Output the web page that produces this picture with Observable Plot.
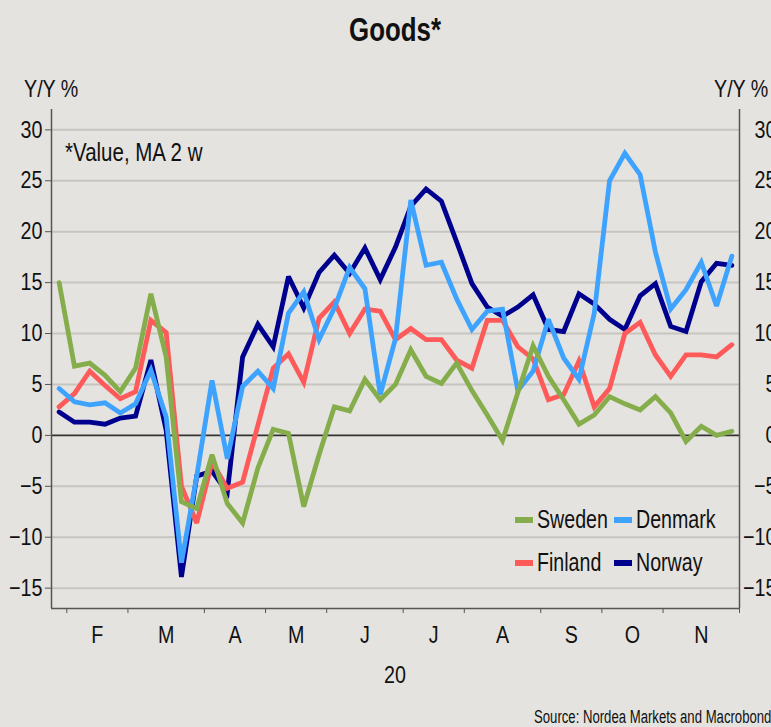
<!DOCTYPE html>
<html><head><meta charset="utf-8">
<script src="https://cdn.jsdelivr.net/npm/d3@7"></script>
<script src="https://cdn.jsdelivr.net/npm/@observablehq/plot@0.6"></script>
<style>
html,body{margin:0;padding:0;background:#e4e3df;}
#wrap{position:relative;width:771px;height:727px;overflow:hidden;background:#e4e3df;font-family:"Liberation Sans",Arial,sans-serif;color:#111;}
.lbl{position:absolute;white-space:nowrap;line-height:1;transform:scaleX(0.82);transform-origin:left center;}
.sw{position:absolute;width:18px;height:6px;}
</style></head><body><div id="wrap"></div>
<script>
const countries = ["Sweden","Denmark","Finland","Norway"];
const colors = ["#86ad4b","#3ea3ff","#ff5a5a","#00008f"];
const sweden  = [15.0,6.8,7.1,5.9,4.3,6.6,13.9,7.7,-6.5,-7.2,-1.9,-6.7,-8.6,-3.2,0.6,0.2,-7.0,-1.9,2.8,2.4,5.5,3.5,5.0,8.4,5.8,5.1,7.1,4.4,2.0,-0.5,4.2,8.8,5.8,3.5,1.1,2.0,3.8,3.1,2.5,3.8,2.2,-0.6,0.9,0.0,0.4];
const denmark = [4.6,3.3,3.0,3.2,2.2,3.1,6.4,1.8,-12.5,-4.0,5.4,-2.3,4.8,6.3,4.6,12.0,14.1,9.4,12.5,16.5,14.4,4.0,9.5,23.1,16.7,17.0,13.4,10.4,12.2,12.4,4.4,6.3,11.4,7.6,5.5,12.0,25.0,27.7,25.6,18.0,12.4,14.3,17.0,12.7,17.6];
const finland = [2.8,4.1,6.3,4.9,3.6,4.3,11.3,10.1,-5.0,-8.6,-2.6,-5.2,-4.6,1.0,6.6,8.0,5.2,11.5,13.1,10.0,12.4,12.2,9.4,10.5,9.4,9.4,7.4,6.6,11.3,11.3,8.7,7.5,3.5,4.0,7.3,2.8,4.6,10.0,11.1,7.9,5.8,7.9,7.9,7.7,8.9];
const norway  = [2.3,1.3,1.3,1.1,1.7,1.9,7.4,0.5,-13.9,-4.0,-3.5,-5.6,7.7,10.9,8.7,15.6,12.5,16.0,17.7,15.9,18.4,15.3,18.5,22.5,24.2,23.0,19.0,14.9,12.6,11.7,12.6,13.8,10.4,10.2,13.9,12.9,11.4,10.4,13.7,14.9,10.7,10.2,15.1,16.9,16.7];
const yTicks = [-15,-10,-5,0,5,10,15,20,25,30];
const monthLabels = ["F","M","A","M","J","J","A","S","O","N"];
const yearLabel = "20";
const title = "Goods*";
const note = "*Value, MA 2 w";
const unit = "Y/Y %";
const source = "Source: Nordea Markets and Macrobond";

// weekly observations (Mondays), 2020
const weeks = d3.utcMonday.range(new Date(Date.UTC(2020,0,27)), new Date(Date.UTC(2020,11,1)));
const half = 3.5*864e5;
const xDomain = [new Date(+weeks[0]-half), new Date(+weeks[weeks.length-1]+half)];
const series = [sweden, denmark, finland, norway];
const data = [];
// draw order: Norway, Finland, Denmark, Sweden
[3,2,1,0].forEach(k => series[k].forEach((v,i) => data.push({country: countries[k], date: weeks[i], value: v})));

// month grouping for x-axis
const groups = d3.groups(weeks, d => d.getUTCMonth()).filter(g => g[0] >= 1);
const boundaries = groups.map(g => new Date(+g[1][0]-half));
boundaries.push(xDomain[1]);
const centers = groups.map(g => new Date((+g[1][0] + +g[1][g[1].length-1])/2));
const labelMap = new Map(centers.map((d,i) => [+d, monthLabels[i]]));

const font = '"Liberation Sans",Arial,sans-serif';
const plot = Plot.plot({
  width: 771, height: 727,
  marginTop: 109, marginBottom: 119, marginLeft: 51, marginRight: 32,
  style: {background: "transparent", fontFamily: font, fontSize: "24px", color: "#111", overflow: "visible"},
  x: {type: "utc", domain: xDomain},
  y: {domain: [-17, 32]},
  color: {domain: countries, range: colors},
  marks: [
    Plot.gridY(yTicks.filter(d => d !== 0), {stroke: "#c7c5c0", strokeOpacity: 1, strokeWidth: 2}),
    Plot.ruleY([0], {stroke: "#333", strokeWidth: 1.6}),
    Plot.axisY(yTicks, {anchor: "left", tickSize: 6, tickPadding: 3, label: null, stroke: "#555", fill: "#111"}),
    Plot.axisY(yTicks, {anchor: "right", tickSize: 6, tickPadding: 0, textAnchor: "end", dx: 31, label: null, stroke: "#555", fill: "#111"}),
    Plot.axisX(boundaries, {anchor: "bottom", tickSize: 5, tickFormat: () => "", label: null, stroke: "#555"}),
    Plot.axisX(centers, {anchor: "bottom", tickSize: 0, tickPadding: 17, tickFormat: d => labelMap.get(+d), label: null, fill: "#111"}),
    Plot.ruleX(xDomain, {stroke: "#555", strokeWidth: 1.5}),
    Plot.ruleY([-17], {stroke: "#555", strokeWidth: 1.5}),
    Plot.line(data, {x: "date", y: "value", z: "country", stroke: "country", strokeWidth: 4.8, strokeLinejoin: "miter", strokeMiterlimit: 3})
  ]
});
plot.style.position = "absolute";
plot.style.left = "0px";
plot.style.top = "0px";
const wrap = document.getElementById("wrap");
wrap.appendChild(plot);

// condense SVG tick labels (narrow face not installed)
plot.querySelectorAll("text").forEach(t => {
  const L = t.getComputedTextLength();
  if (L > 0) {
    t.setAttribute("textLength", (L * 0.82).toFixed(2));
    t.setAttribute("lengthAdjust", "spacingAndGlyphs");
  }
});

function addLabel(text, css) {
  const d = document.createElement("div");
  d.className = "lbl";
  d.textContent = text;
  Object.assign(d.style, css);
  wrap.appendChild(d);
  return d;
}
addLabel(title, {left: "0px", width: "790px", textAlign: "center", top: "12px", fontSize: "34px", fontWeight: "bold", transform: "scaleX(0.76)", transformOrigin: "395px 50%"});
addLabel(unit, {left: "24px", top: "77px", fontSize: "24px"});
addLabel(unit, {left: "714px", top: "77px", fontSize: "24px"});
addLabel(note, {left: "65px", top: "140px", fontSize: "25px"});
addLabel(yearLabel, {left: "0px", width: "790px", textAlign: "center", top: "663px", fontSize: "24px", transformOrigin: "395px 50%"});
addLabel(source, {left: "534px", top: "708px", fontSize: "18px", transform: "scaleX(0.73)"});
// legend
const legendPos = [[515, 506], [614, 506], [515, 549], [614, 549]];
[0, 1, 2, 3].forEach((k, j) => {
  const [lx, ly] = legendPos[j];
  const s = document.createElement("div");
  s.className = "sw";
  s.style.left = lx + "px";
  s.style.top = (ly + 11) + "px";
  s.style.background = colors[k];
  wrap.appendChild(s);
  addLabel(countries[k], {left: (lx + 22) + "px", top: ly + "px", fontSize: "26.5px", transform: "scaleX(0.74)"});
});
</script>
</body></html>
